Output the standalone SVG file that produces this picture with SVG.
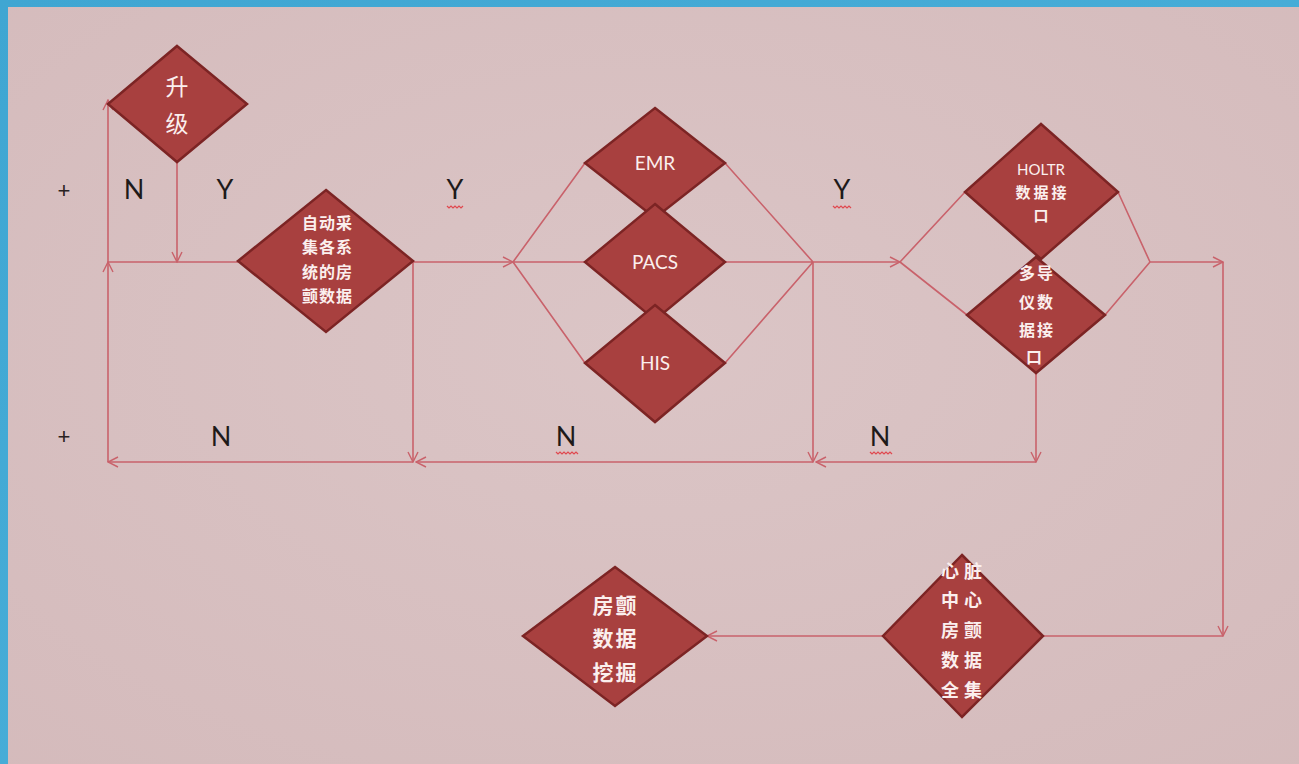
<svg xmlns="http://www.w3.org/2000/svg" width="1299" height="764" viewBox="0 0 1299 764">
  <defs>
    <linearGradient id="frame" x1="0" y1="0" x2="1" y2="1">
      <stop offset="0" stop-color="#3fa6d2"/>
      <stop offset="1" stop-color="#4db3dc"/>
    </linearGradient>
    <radialGradient id="paper" cx="0.5" cy="0.45" r="0.8">
      <stop offset="0" stop-color="#dbc5c6"/>
      <stop offset="1" stop-color="#d4babb"/>
    </radialGradient>
    <marker id="arr" viewBox="0 0 12 12" markerWidth="12" markerHeight="12" refX="11" refY="6" orient="auto" markerUnits="userSpaceOnUse">
      <path d="M1,1 L11,6 L1,11" fill="none" stroke="#c9626b" stroke-width="1.4"/>
    </marker>
    <style>
      .dia { fill: #a8403f; stroke: #7c2424; stroke-width: 2.5; stroke-linejoin: miter; }
      .ln { fill: none; stroke: #c9626b; stroke-width: 1.6; }
      .ar { marker-end: url(#arr); }
      .lbl { font-family: Lato, "Liberation Sans", sans-serif; font-size: 27px; fill: #1e1a1a; text-anchor: middle; }
      .plus { font-family: "Liberation Sans", sans-serif; font-size: 22px; fill: #2a2222; text-anchor: middle; }
      .en { font-family: Lato, "Liberation Sans", sans-serif; font-size: 19px; fill: #fbefee; text-anchor: middle; }
      .cn { font-family: "Noto Sans CJK SC", "Noto Sans CJK JP", sans-serif; font-weight: bold; fill: #fbefee; text-anchor: middle; }
      .sq { fill: none; stroke: #e0484f; stroke-width: 1.2; }
    </style>
  </defs>

  <!-- frame and paper -->
  <rect x="0" y="0" width="1299" height="764" fill="url(#frame)"/>
  <rect x="8" y="7" width="1291" height="757" fill="url(#paper)"/>

  <!-- connectors -->
  <g id="connectors">
    <!-- upgrade loop -->
    <path class="ln ar" d="M108,462 L108,262"/>
    <path class="ln ar" d="M108,262 L108,100"/>
    <path class="ln" d="M108,262 L238,262"/>
    <path class="ln ar" d="M177,162 L177,262"/>
    <!-- auto capture to systems -->
    <path class="ln ar" d="M413,262 L513,262"/>
    <path class="ln" d="M513,262 L585,163 M513,262 L585,262 M513,262 L585,363"/>
    <path class="ln" d="M725,163 L813,262 M725,262 L813,262 M725,363 L813,262"/>
    <path class="ln ar" d="M813,262 L900,262"/>
    <!-- interfaces -->
    <path class="ln" d="M900,262 L965,192 M900,262 L967,315"/>
    <path class="ln" d="M1118,192 L1150,262 M1105,315 L1150,262"/>
    <path class="ln ar" d="M1150,262 L1223,262"/>
    <path class="ln ar" d="M1223,262 L1223,636"/>
    <path class="ln" d="M1223,636 L1043,636"/>
    <path class="ln ar" d="M883,636 L707,636"/>
    <!-- N return paths -->
    <path class="ln ar" d="M413,262 L413,462"/>
    <path class="ln ar" d="M813,262 L813,462"/>
    <path class="ln ar" d="M1036,373 L1036,462"/>
    <path class="ln ar" d="M1036,462 L816,462"/>
    <path class="ln ar" d="M813,462 L416,462"/>
    <path class="ln ar" d="M413,462 L108,462"/>
  </g>

  <!-- labels -->
  <g id="labels">
    <text class="plus" x="64" y="198">+</text>
    <text class="plus" x="64" y="444">+</text>
    <text class="lbl" x="134" y="199">N</text>
    <text class="lbl" x="225" y="199">Y</text>
    <text class="lbl" x="455" y="199">Y</text>
    <path class="sq" d="M447,206 l2,2 l2,-2 l2,2 l2,-2 l2,2 l2,-2 l2,2 l2,-2"/>
    <text class="lbl" x="842" y="199">Y</text>
    <path class="sq" d="M833,206 l2,2 l2,-2 l2,2 l2,-2 l2,2 l2,-2 l2,2 l2,-2 l2,2"/>
    <text class="lbl" x="221" y="446">N</text>
    <text class="lbl" x="566" y="446">N</text>
    <path class="sq" d="M556,452 l2,2 l2,-2 l2,2 l2,-2 l2,2 l2,-2 l2,2 l2,-2 l2,2 l2,-2 l2,2"/>
    <text class="lbl" x="880" y="446">N</text>
    <path class="sq" d="M870,452 l2,2 l2,-2 l2,2 l2,-2 l2,2 l2,-2 l2,2 l2,-2 l2,2 l2,-2 l2,2"/>
  </g>

  <!-- upgrade -->
  <g id="node-upgrade">
    <polygon class="dia" points="177,46 247,104 177,162 108,104"/>
    <text class="cn" font-weight="normal" font-size="23" x="177" y="95" style="font-weight:normal">升</text>
    <text class="cn" font-size="23" x="177" y="132" style="font-weight:normal">级</text>
  </g>

  <!-- automatic capture -->
  <g id="node-capture">
    <polygon class="dia" points="326,190 413,261 326,332 238,261"/>
    <g class="cn" font-size="16">
      <text x="310" y="229">自</text><text x="327" y="229">动</text><text x="344" y="229">采</text>
      <text x="310" y="253">集</text><text x="327" y="253">各</text><text x="344" y="253">系</text>
      <text x="310" y="278">统</text><text x="327" y="278">的</text><text x="344" y="278">房</text>
      <text x="310" y="302">颤</text><text x="327" y="302">数</text><text x="344" y="302">据</text>
    </g>
  </g>

  <!-- hospital systems -->
  <g id="node-emr">
    <polygon class="dia" points="655,108 725,163 655,218 585,163"/>
    <text class="en" x="655" y="170">EMR</text>
  </g>
  <g id="node-pacs">
    <polygon class="dia" points="655,204 725,262 655,320 585,262"/>
    <text class="en" x="655" y="269">PACS</text>
  </g>
  <g id="node-his">
    <polygon class="dia" points="655,305 725,363 655,422 585,363"/>
    <text class="en" x="655" y="370">HIS</text>
  </g>

  <!-- device interfaces -->
  <g id="node-holter">
    <polygon class="dia" points="1041,124 1118,192 1041,259 965,192"/>
    <text class="en" font-size="15" x="1041" y="175" style="font-size:15px">HOLTR</text>
    <g class="cn" font-size="15">
      <text x="1023" y="198">数</text><text x="1041" y="198">据</text><text x="1059" y="198">接</text>
      <text x="1041" y="221">口</text>
    </g>
  </g>
  <g id="node-multilead">
    <polygon class="dia" points="1036,257 1105,315 1036,373 967,315"/>
    <g class="cn" font-size="16">
      <text x="1027" y="279">多</text><text x="1045" y="279">导</text>
      <text x="1027" y="308">仪</text><text x="1045" y="308">数</text>
      <text x="1027" y="336">据</text><text x="1045" y="336">接</text>
      <text x="1034" y="363">口</text>
    </g>
  </g>

  <!-- heart centre data set -->
  <g id="node-dataset">
    <polygon class="dia" points="962,555 1043,636 962,717 883,636"/>
    <g class="cn" font-size="18">
      <text x="950" y="578">心</text><text x="973" y="578">脏</text>
      <text x="950" y="607">中</text><text x="973" y="607">心</text>
      <text x="950" y="637">房</text><text x="973" y="637">颤</text>
      <text x="950" y="667">数</text><text x="973" y="667">据</text>
      <text x="950" y="697">全</text><text x="973" y="697">集</text>
    </g>
  </g>

  <!-- data mining -->
  <g id="node-mining">
    <polygon class="dia" points="615,567 707,636 615,706 523,636"/>
    <g class="cn" font-size="21">
      <text x="603" y="613">房</text><text x="626" y="613">颤</text>
      <text x="603" y="646">数</text><text x="626" y="646">据</text>
      <text x="603" y="680">挖</text><text x="626" y="680">掘</text>
    </g>
  </g>
</svg>
